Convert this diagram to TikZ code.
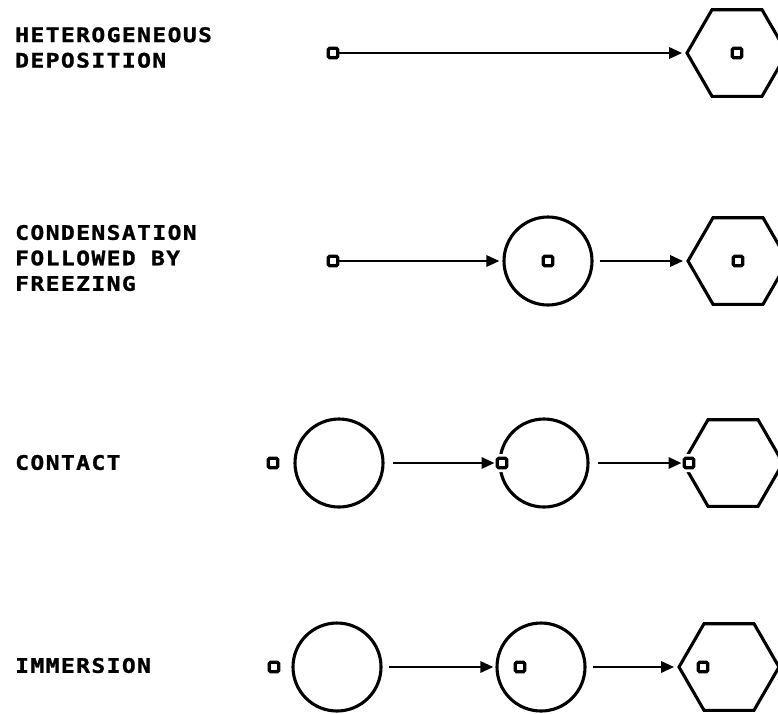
\documentclass[tikz,border=0pt]{standalone}
\usepackage{fontspec}
\newfontfamily\lblfont{DejaVu Sans Mono}[LetterSpace=7,FakeStretch=1.15,FakeBold=1.2]
\usetikzlibrary{shapes.geometric,arrows.meta}
\begin{document}
\begin{tikzpicture}[x=1pt,y=-1pt,
  lbl/.style={anchor=west,align=left,font=\fontsize{20}{25.5}\selectfont\lblfont\bfseries,inner sep=0pt},
  part/.style={draw,line width=3.3pt,rounded corners=1.5pt,minimum size=9.5pt,inner sep=0pt,fill=white,preaction={draw=white,line width=8.5pt}},
  drop/.style={draw,circle,line width=3.1pt,minimum size=88pt,inner sep=0pt},
  ice/.style={draw,regular polygon,regular polygon sides=6,line width=3.1pt,minimum size=100pt,inner sep=0pt},
  arr/.style={line width=2.9pt,-{Triangle[length=13pt,width=11pt]}}]
\clip (0,0) rectangle (778,713);
\useasboundingbox (0,0) rectangle (778,713);

% labels
\node[lbl] (l1) at (15,47.5) {HETEROGENEOUS\\DEPOSITION};
\node[lbl] (l2) at (15,258) {CONDENSATION\\FOLLOWED BY\\FREEZING};
\node[lbl] (l3) at (15,462.5) {CONTACT};
\node[lbl] (l4) at (15,665.5) {IMMERSION};

% row 1
\node[ice] (h1) at (737,53) {};
\node[part] (p1) at (333,53) {};
\node[part] (s1) at (737,53) {};
\draw[arr,shorten >=3pt] (p1.east) -- (h1.west);

% row 2
\node[drop] (c2) at (548,261) {};
\node[ice] (h2) at (738,261) {};
\node[part] (p2) at (333,261) {};
\node[part] (q2) at (548,261) {};
\node[part] (s2) at (738,261) {};
\draw[arr,shorten >=3pt] (p2.east) -- (c2.west);
\draw[arr,shorten >=3pt] ([xshift=6pt]c2.east) -- (h2.west);

% row 3
\node[drop] (a3) at (339,463) {};
\node[drop] (b3) at (544,463) {};
\node[ice] (h3) at (733,463) {};
\node[part] (p3) at (273,463) {};
\node[part] (q3) at (502,463) {};
\node[part] (s3) at (689,463) {};
\draw[arr,shorten >=1pt] ([xshift=8pt]a3.east) -- (q3.west);
\draw[arr,shorten >=1pt] ([xshift=8pt]b3.east) -- (s3.west);

% row 4
\node[drop] (a4) at (337,667) {};
\node[drop] (b4) at (541,667) {};
\node[ice] (h4) at (729,667) {};
\node[part] (p4) at (274,667) {};
\node[part] (q4) at (520,667) {};
\node[part] (s4) at (703,667) {};
\draw[arr,shorten >=2pt] ([xshift=6pt]a4.east) -- (b4.west);
\draw[arr,shorten >=3pt] ([xshift=6pt]b4.east) -- (h4.west);
\end{tikzpicture}
\end{document}
